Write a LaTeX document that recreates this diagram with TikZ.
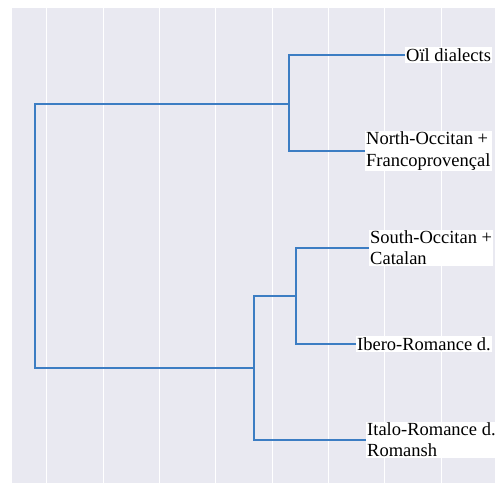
\documentclass[tikz,border=0pt]{standalone}
\usepackage{fontspec}
\setmainfont{Liberation Serif}
\definecolor{panelbg}{RGB}{233,233,241}
\definecolor{linkblue}{RGB}{60,125,195}
\begin{document}
\begin{tikzpicture}[x=1pt,y=-1pt,
  link/.style={draw=linkblue,line width=1.4pt},
  grid/.style={draw=white,line width=1pt},
  leaf/.style={anchor=west,fill=white,inner sep=1pt,align=left,
    font=\fontsize{18.5}{21.3}\selectfont}]
\useasboundingbox (0,0) rectangle (500,485);
\fill[panelbg] (12,8) rectangle (495,483);
\foreach \gx in {46.7,103,159.3,215.7,272,328.3,384.6,441}
  \draw[grid] (\gx,8) -- (\gx,483);
% leaves
\node[leaf] (oil) at (405,55) {Oïl dialects};
\node[leaf] (noc) at (365,151) {North-Occitan +\\Francoprovençal};
\node[leaf] (soc) at (369,248) {South-Occitan +\\Catalan};
\node[leaf] (ibe) at (356,344) {Ibero-Romance d.};
\node[leaf] (ita) at (366,440) {Italo-Romance d.\\Romansh};
% junctions
\coordinate (j1) at (289,104);
\coordinate (j3) at (296,296);
\coordinate (j2) at (254,368);
\coordinate (r) at (35,236);
% links
\draw[link] (oil.west) -| (j1) |- (noc.west);
\draw[link] (soc.west) -| (j3) |- (ibe.west);
\draw[link] (j3) -| (j2) |- (ita.west);
\draw[link] (j1) -| (r) |- (j2);
\end{tikzpicture}
\end{document}
